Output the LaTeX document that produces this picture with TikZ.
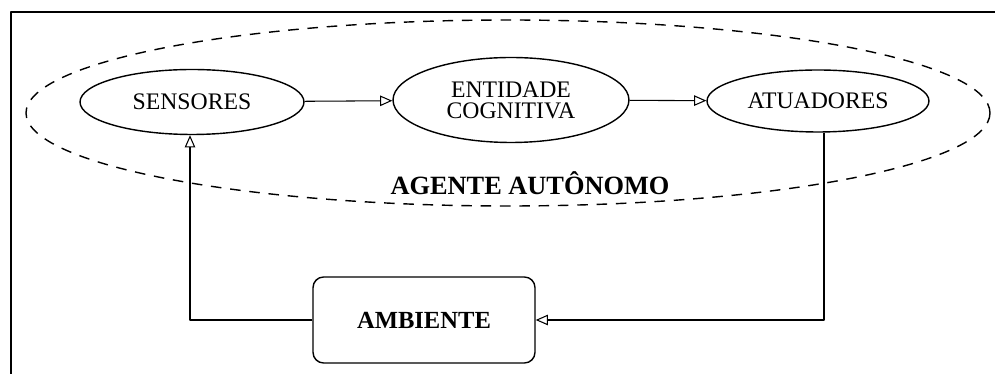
\documentclass[tikz,border=0pt]{standalone}
\usepackage{fontspec}
\setmainfont{Liberation Serif}
\usetikzlibrary{shapes.geometric,arrows.meta}
\begin{document}
\begin{tikzpicture}[x=0.02cm, y=-0.02cm, line join=round,
  parte/.style={draw, thick, ellipse, inner sep=0pt, font=\fontsize{13.5}{14}\selectfont, align=center},
  seta/.style={semithick, -{Triangle[open, length=7pt, width=6pt]}}]
% Quadro e margens
\useasboundingbox (0,0) rectangle (995,374);
\draw[thick] (11,374) -- (11,12) -- (995,12);
% Agente autonomo (elipse tracejada)
\draw[thick, dash pattern=on 6pt off 5pt] (508,113) ellipse [x radius=482, y radius=93];
\node[font=\fontsize{15}{16}\selectfont\bfseries] (agente) at (530,183) {AGENTE AUTÔNOMO};
% Partes do agente
\node[parte, minimum width=4.48cm, minimum height=1.3cm] (sens) at (192,102) {SENSORES};
\node[parte, minimum width=4.72cm, minimum height=1.7cm] (ent) at (511,100) {ENTIDADE\\[-2pt]COGNITIVA};
\node[parte, minimum width=4.44cm, minimum height=1.24cm] (atua) at (818,101) {ATUADORES};
% Ambiente
\node[draw, thick, rounded corners=6pt, minimum width=4.44cm, minimum height=1.72cm,
  font=\fontsize{14}{15}\selectfont\bfseries] (amb) at (424,320) {AMBIENTE};
% Ligacoes
\draw[seta] (sens) -- (ent);
\draw[seta] (ent) -- (atua);
\draw[seta] (atua.south -| 824,0) |- (amb.east);
\draw[seta] (amb.west) -| (sens.south -| 190,0);
\end{tikzpicture}
\end{document}
